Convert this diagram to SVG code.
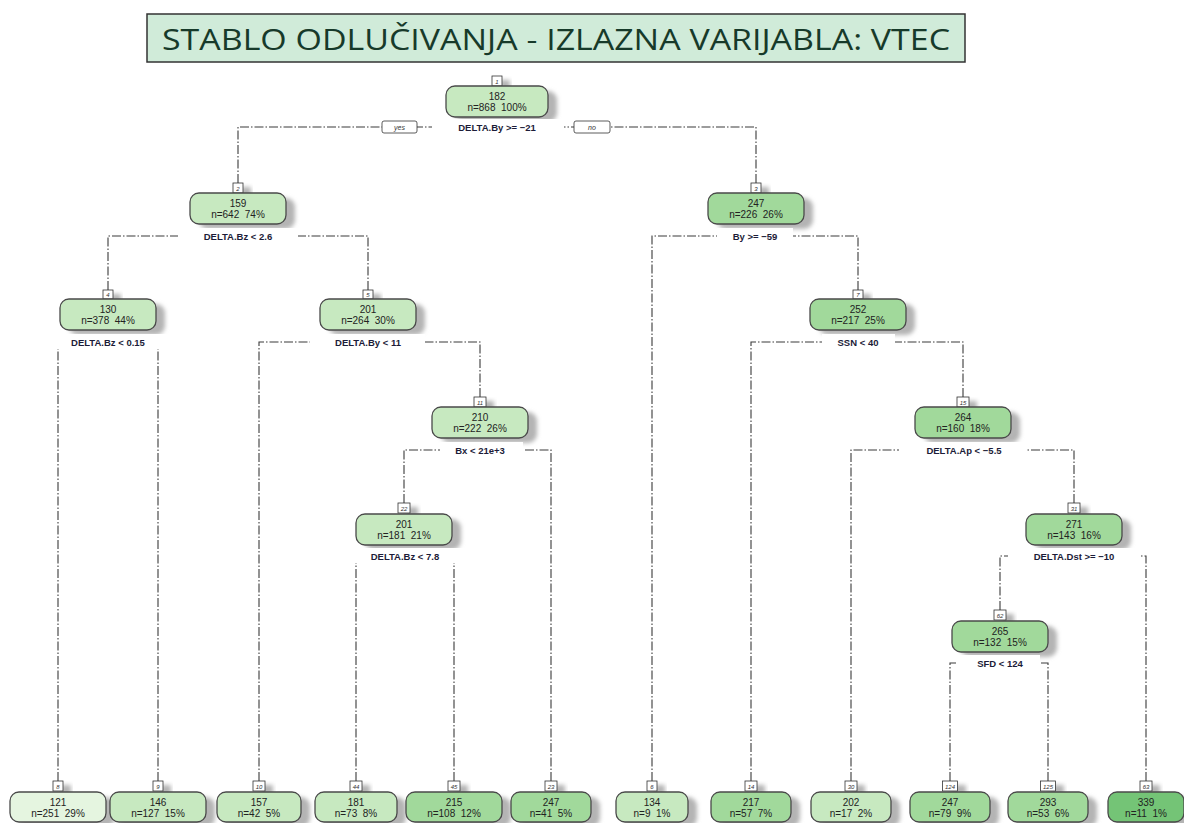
<svg xmlns="http://www.w3.org/2000/svg" width="1184" height="823" viewBox="0 0 1184 823">
<defs>
<filter id="sh" x="-20%" y="-40%" width="140%" height="180%"><feGaussianBlur stdDeviation="2"/></filter>
</defs>
<style>
.sh{fill:#b4b4b4;filter:url(#sh)}
.bx{stroke:#4a4a4a;stroke-width:1.3}
.L{fill:#c7e9c0}.M{fill:#a1d99b}.VL{fill:#e5f5e0}.D{fill:#74c476}
.t{font-family:"Liberation Sans",Arial,sans-serif;font-size:10px;fill:#222;text-anchor:middle;white-space:pre}
.nb{fill:#fff;stroke:#333;stroke-width:0.8}
.nt{font-family:"Liberation Sans",Arial,sans-serif;font-size:6px;font-style:italic;fill:#333;text-anchor:middle}
.bg{fill:#fff}
.sp{font-family:"Liberation Sans",Arial,sans-serif;font-size:9.5px;font-weight:bold;fill:#1c1c38;text-anchor:middle}
.cn{fill:none;stroke:#3a3a3a;stroke-width:1.1;stroke-dasharray:9 2 1.5 2}
.yn{fill:#fff;stroke:#333;stroke-width:0.8}
.ynt{font-family:"Liberation Sans",Arial,sans-serif;font-size:7px;font-style:italic;fill:#333;text-anchor:middle}
</style>
<rect width="1184" height="823" fill="#fff"/>
<g id="title">
<rect x="147" y="14" width="818" height="48" fill="#d0ebd9" stroke="#333" stroke-width="1.5"/>
<text x="556" y="50" font-family="Open Sans,DejaVu Sans,sans-serif" font-size="30" fill="#173a2a" text-anchor="middle" textLength="788" lengthAdjust="spacingAndGlyphs">STABLO ODLUČIVANJA - IZLAZNA VARIJABLA: VTEC</text>
</g>
<g id="connectors">
<path class="cn" d="M238 183V127H497"/>
<path class="cn" d="M756 183V127H497"/>
<path class="cn" d="M108 290V236H238"/>
<path class="cn" d="M368 290V236H238"/>
<path class="cn" d="M652 781V236H756"/>
<path class="cn" d="M858 290V236H756"/>
<path class="cn" d="M58 781V342H108"/>
<path class="cn" d="M158 781V342H108"/>
<path class="cn" d="M259 781V342H368"/>
<path class="cn" d="M480 397V342H368"/>
<path class="cn" d="M751 781V342H858"/>
<path class="cn" d="M963 397V342H858"/>
<path class="cn" d="M404 503V450H480"/>
<path class="cn" d="M551 781V450H480"/>
<path class="cn" d="M851 781V450H963"/>
<path class="cn" d="M1074 503V450H963"/>
<path class="cn" d="M356 781V556H404"/>
<path class="cn" d="M454 781V556H404"/>
<path class="cn" d="M1000 610V556H1074"/>
<path class="cn" d="M1146 781V556H1074"/>
<path class="cn" d="M950 781V663H1000"/>
<path class="cn" d="M1048 781V663H1000"/>
<rect class="yn" x="382" y="121" width="35" height="12" rx="2"/>
<text class="ynt" x="399.5" y="129.5">yes</text>
<rect class="yn" x="574" y="121" width="36" height="12" rx="2"/>
<text class="ynt" x="592" y="129.5">no</text>
</g>
<g id="node-1">
<rect class="sh" x="455" y="91" width="102" height="31" rx="9"/><rect class="sh" x="500" y="80" width="10" height="10"/>
<rect class="nb" x="492" y="76" width="10" height="10"/><text class="nt" x="497" y="83.5">1</text>
<rect class="bx L" x="446" y="86" width="102" height="31" rx="9"/>
<text class="t" x="497" y="100">182</text><text class="t" x="497" y="111">n=868  100%</text>
<rect class="bg" x="432" y="119" width="132" height="15"/>
<text class="sp" x="497" y="130.5">DELTA.By &gt;= −21</text>
</g>
<g id="node-2">
<rect class="sh" x="199" y="198" width="96" height="31" rx="9"/><rect class="sh" x="241" y="187" width="10" height="10"/>
<rect class="nb" x="233" y="183" width="10" height="10"/><text class="nt" x="238" y="190.5">2</text>
<rect class="bx L" x="190" y="193" width="96" height="31" rx="9"/>
<text class="t" x="238" y="207">159</text><text class="t" x="238" y="218">n=642  74%</text>
<rect class="bg" x="178" y="228" width="120" height="15"/>
<text class="sp" x="238" y="239.5">DELTA.Bz &lt; 2.6</text>
</g>
<g id="node-3">
<rect class="sh" x="717" y="198" width="96" height="31" rx="9"/><rect class="sh" x="759" y="187" width="10" height="10"/>
<rect class="nb" x="751" y="183" width="10" height="10"/><text class="nt" x="756" y="190.5">3</text>
<rect class="bx M" x="708" y="193" width="96" height="31" rx="9"/>
<text class="t" x="756" y="207">247</text><text class="t" x="756" y="218">n=226  26%</text>
<rect class="bg" x="717" y="228" width="76" height="15"/>
<text class="sp" x="755" y="239.5">By &gt;= −59</text>
</g>
<g id="node-4">
<rect class="sh" x="69" y="304" width="96" height="31" rx="9"/><rect class="sh" x="111" y="294" width="10" height="10"/>
<rect class="nb" x="103" y="290" width="10" height="9"/><text class="nt" x="108" y="297">4</text>
<rect class="bx L" x="60" y="299" width="96" height="31" rx="9"/>
<text class="t" x="108" y="313">130</text><text class="t" x="108" y="324">n=378  44%</text>
<rect class="bg" x="44" y="334" width="130" height="15"/>
<text class="sp" x="108" y="345.5">DELTA.Bz &lt; 0.15</text>
</g>
<g id="node-5">
<rect class="sh" x="329" y="304" width="96" height="31" rx="9"/><rect class="sh" x="371" y="294" width="10" height="10"/>
<rect class="nb" x="363" y="290" width="10" height="9"/><text class="nt" x="368" y="297">5</text>
<rect class="bx L" x="320" y="299" width="96" height="31" rx="9"/>
<text class="t" x="368" y="313">201</text><text class="t" x="368" y="324">n=264  30%</text>
<rect class="bg" x="310" y="334" width="115" height="15"/>
<text class="sp" x="368" y="345.5">DELTA.By &lt; 11</text>
</g>
<g id="node-7">
<rect class="sh" x="819" y="304" width="96" height="31" rx="9"/><rect class="sh" x="861" y="294" width="10" height="10"/>
<rect class="nb" x="853" y="290" width="10" height="9"/><text class="nt" x="858" y="297">7</text>
<rect class="bx M" x="810" y="299" width="96" height="31" rx="9"/>
<text class="t" x="858" y="313">252</text><text class="t" x="858" y="324">n=217  25%</text>
<rect class="bg" x="822" y="334" width="73" height="15"/>
<text class="sp" x="858" y="345.5">SSN &lt; 40</text>
</g>
<g id="node-11">
<rect class="sh" x="441" y="412" width="96" height="31" rx="9"/><rect class="sh" x="482" y="401" width="12" height="10"/>
<rect class="nb" x="474" y="397" width="12" height="10"/><text class="nt" x="480" y="404.5">11</text>
<rect class="bx L" x="432" y="407" width="96" height="31" rx="9"/>
<text class="t" x="480" y="421">210</text><text class="t" x="480" y="432">n=222  26%</text>
<rect class="bg" x="440" y="442" width="83" height="15"/>
<text class="sp" x="480" y="453.5">Bx &lt; 21e+3</text>
</g>
<g id="node-15">
<rect class="sh" x="924" y="412" width="96" height="31" rx="9"/><rect class="sh" x="965" y="401" width="12" height="10"/>
<rect class="nb" x="957" y="397" width="12" height="10"/><text class="nt" x="963" y="404.5">15</text>
<rect class="bx M" x="915" y="407" width="96" height="31" rx="9"/>
<text class="t" x="963" y="421">264</text><text class="t" x="963" y="432">n=160  18%</text>
<rect class="bg" x="899" y="442" width="128" height="15"/>
<text class="sp" x="964" y="453.5">DELTA.Ap &lt; −5.5</text>
</g>
<g id="node-22">
<rect class="sh" x="365" y="519" width="96" height="31" rx="9"/><rect class="sh" x="406" y="507" width="12" height="10"/>
<rect class="nb" x="398" y="503" width="12" height="10"/><text class="nt" x="404" y="510.5">22</text>
<rect class="bx L" x="356" y="514" width="96" height="31" rx="9"/>
<text class="t" x="404" y="528">201</text><text class="t" x="404" y="539">n=181  21%</text>
<rect class="bg" x="345" y="548" width="120" height="15"/>
<text class="sp" x="405" y="559.5">DELTA.Bz &lt; 7.8</text>
</g>
<g id="node-31">
<rect class="sh" x="1035" y="519" width="96" height="31" rx="9"/><rect class="sh" x="1076" y="507" width="12" height="10"/>
<rect class="nb" x="1068" y="503" width="12" height="10"/><text class="nt" x="1074" y="510.5">31</text>
<rect class="bx M" x="1026" y="514" width="96" height="31" rx="9"/>
<text class="t" x="1074" y="528">271</text><text class="t" x="1074" y="539">n=143  16%</text>
<rect class="bg" x="1008" y="548" width="132" height="15"/>
<text class="sp" x="1074" y="559.5">DELTA.Dst &gt;= −10</text>
</g>
<g id="node-62">
<rect class="sh" x="961" y="626" width="96" height="31" rx="9"/><rect class="sh" x="1002" y="614" width="12" height="10"/>
<rect class="nb" x="994" y="610" width="12" height="10"/><text class="nt" x="1000" y="617.5">62</text>
<rect class="bx M" x="952" y="621" width="96" height="31" rx="9"/>
<text class="t" x="1000" y="635">265</text><text class="t" x="1000" y="646">n=132  15%</text>
<rect class="bg" x="956" y="655" width="84" height="15"/>
<text class="sp" x="1000" y="666.5">SFD &lt; 124</text>
</g>
<g id="leaf-8">
<rect class="sh" x="19" y="797" width="96" height="30" rx="9"/><rect class="sh" x="61" y="785" width="10" height="10"/>
<rect class="nb" x="53" y="781" width="10" height="10"/><text class="nt" x="58" y="788.5">8</text>
<rect class="bx VL" x="10" y="792" width="96" height="30" rx="9"/>
<text class="t" x="58" y="806">121</text><text class="t" x="58" y="817">n=251  29%</text>
</g>
<g id="leaf-9">
<rect class="sh" x="119" y="797" width="96" height="30" rx="9"/><rect class="sh" x="161" y="785" width="10" height="10"/>
<rect class="nb" x="153" y="781" width="10" height="10"/><text class="nt" x="158" y="788.5">9</text>
<rect class="bx L" x="110" y="792" width="96" height="30" rx="9"/>
<text class="t" x="158" y="806">146</text><text class="t" x="158" y="817">n=127  15%</text>
</g>
<g id="leaf-10">
<rect class="sh" x="226" y="797" width="84" height="30" rx="9"/><rect class="sh" x="261" y="785" width="12" height="10"/>
<rect class="nb" x="253" y="781" width="12" height="10"/><text class="nt" x="259" y="788.5">10</text>
<rect class="bx L" x="217" y="792" width="84" height="30" rx="9"/>
<text class="t" x="259" y="806">157</text><text class="t" x="259" y="817">n=42  5%</text>
</g>
<g id="leaf-44">
<rect class="sh" x="324" y="797" width="82" height="30" rx="9"/><rect class="sh" x="358" y="785" width="12" height="10"/>
<rect class="nb" x="350" y="781" width="12" height="10"/><text class="nt" x="356" y="788.5">44</text>
<rect class="bx L" x="315" y="792" width="82" height="30" rx="9"/>
<text class="t" x="356" y="806">181</text><text class="t" x="356" y="817">n=73  8%</text>
</g>
<g id="leaf-45">
<rect class="sh" x="415" y="797" width="96" height="30" rx="9"/><rect class="sh" x="456" y="785" width="12" height="10"/>
<rect class="nb" x="448" y="781" width="12" height="10"/><text class="nt" x="454" y="788.5">45</text>
<rect class="bx M" x="406" y="792" width="96" height="30" rx="9"/>
<text class="t" x="454" y="806">215</text><text class="t" x="454" y="817">n=108  12%</text>
</g>
<g id="leaf-23">
<rect class="sh" x="520" y="797" width="80" height="30" rx="9"/><rect class="sh" x="553" y="785" width="12" height="10"/>
<rect class="nb" x="545" y="781" width="12" height="10"/><text class="nt" x="551" y="788.5">23</text>
<rect class="bx M" x="511" y="792" width="80" height="30" rx="9"/>
<text class="t" x="551" y="806">247</text><text class="t" x="551" y="817">n=41  5%</text>
</g>
<g id="leaf-6">
<rect class="sh" x="625" y="797" width="72" height="30" rx="9"/><rect class="sh" x="655" y="785" width="10" height="10"/>
<rect class="nb" x="647" y="781" width="10" height="10"/><text class="nt" x="652" y="788.5">6</text>
<rect class="bx L" x="616" y="792" width="72" height="30" rx="9"/>
<text class="t" x="652" y="806">134</text><text class="t" x="652" y="817">n=9  1%</text>
</g>
<g id="leaf-14">
<rect class="sh" x="720" y="797" width="80" height="30" rx="9"/><rect class="sh" x="753" y="785" width="12" height="10"/>
<rect class="nb" x="745" y="781" width="12" height="10"/><text class="nt" x="751" y="788.5">14</text>
<rect class="bx M" x="711" y="792" width="80" height="30" rx="9"/>
<text class="t" x="751" y="806">217</text><text class="t" x="751" y="817">n=57  7%</text>
</g>
<g id="leaf-30">
<rect class="sh" x="820" y="797" width="80" height="30" rx="9"/><rect class="sh" x="853" y="785" width="12" height="10"/>
<rect class="nb" x="845" y="781" width="12" height="10"/><text class="nt" x="851" y="788.5">30</text>
<rect class="bx L" x="811" y="792" width="80" height="30" rx="9"/>
<text class="t" x="851" y="806">202</text><text class="t" x="851" y="817">n=17  2%</text>
</g>
<g id="leaf-124">
<rect class="sh" x="919" y="797" width="80" height="30" rx="9"/><rect class="sh" x="951" y="785" width="15" height="10"/>
<rect class="nb" x="942.5" y="781" width="15" height="10"/><text class="nt" x="950" y="788.5">124</text>
<rect class="bx M" x="910" y="792" width="80" height="30" rx="9"/>
<text class="t" x="950" y="806">247</text><text class="t" x="950" y="817">n=79  9%</text>
</g>
<g id="leaf-125">
<rect class="sh" x="1017" y="797" width="80" height="30" rx="9"/><rect class="sh" x="1049" y="785" width="15" height="10"/>
<rect class="nb" x="1040.5" y="781" width="15" height="10"/><text class="nt" x="1048" y="788.5">125</text>
<rect class="bx M" x="1008" y="792" width="80" height="30" rx="9"/>
<text class="t" x="1048" y="806">293</text><text class="t" x="1048" y="817">n=53  6%</text>
</g>
<g id="leaf-63">
<rect class="sh" x="1117" y="797" width="76" height="30" rx="9"/><rect class="sh" x="1148" y="785" width="12" height="10"/>
<rect class="nb" x="1140" y="781" width="12" height="10"/><text class="nt" x="1146" y="788.5">63</text>
<rect class="bx D" x="1108" y="792" width="76" height="30" rx="9"/>
<text class="t" x="1146" y="806">339</text><text class="t" x="1146" y="817">n=11  1%</text>
</g>
</svg>
